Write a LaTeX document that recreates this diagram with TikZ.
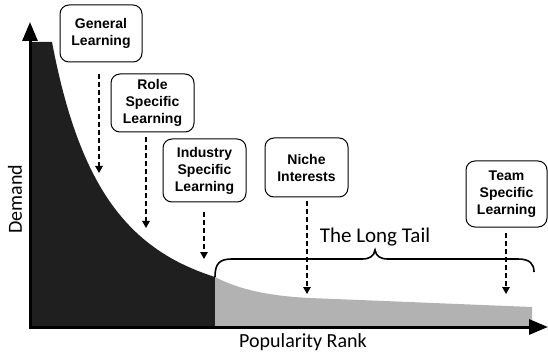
\documentclass[tikz,border=0pt]{standalone}
\usepackage{fontspec}
\setmainfont{Liberation Sans}
\newfontfamily\labelfont{Carlito}
\usetikzlibrary{arrows.meta}
\begin{document}
\begin{tikzpicture}[x=1pt,y=-1pt,
  stagebox/.style={draw,line width=1pt,rounded corners=9pt,inner sep=0pt,
    align=center,font=\fontsize{14}{17}\selectfont\bfseries},
  dropline/.style={line width=1.4pt,dash pattern=on 5pt off 3pt,
    -{Triangle[length=7pt,width=7.5pt]}},
  axisline/.style={line width=3pt,-{Triangle[length=19pt,width=15pt]}},
  axislabel/.style={font=\labelfont\fontsize{20}{24}\selectfont}]
\useasboundingbox (0,0) rectangle (548,355);

% head of the distribution
\fill[black!88] (30,327) -- (30,42) -- (52,42)
  .. controls (80,190) and (130,250) .. (215,277) -- (215,327) -- cycle;
% the tail
\fill[black!30] (215,327) -- (215,277)
  .. controls (240,290) and (270,296) .. (310,298) -- (532,307) -- (532,327) -- cycle;

% axes
\coordinate (origin) at (30,327);
\coordinate (ytop) at (30,22);
\coordinate (xend) at (548,327);
\draw[axisline] ([yshift=1.5pt]origin) -- (ytop);
\draw[axisline] ([xshift=-1.5pt]origin) -- (xend);

\node[axislabel,rotate=90] (demand) at (15,199) {Demand};
\node[axislabel] (rank) at (303,342) {Popularity Rank};

% brace over the tail
\draw[line width=1.6pt]
  (215,277) .. controls (215,263) and (220,259) .. (232,259) -- (362,259)
  .. controls (370,259) and (374,256) .. (375,250)
  .. controls (376,256) and (380,259) .. (388,259) -- (518,259)
  .. controls (530,259) and (534,264) .. (534,272);
\node[axislabel,font=\labelfont\fontsize{21}{24}\selectfont] (tail) at (375,237) {The Long Tail};

% learning categories
\node[stagebox,minimum width=82pt,minimum height=57pt] (gen) at (101,33.5) {General\\Learning};
\node[stagebox,minimum width=83pt,minimum height=58pt] (role) at (152.5,103) {Role\\Specific\\Learning};
\node[stagebox,minimum width=83pt,minimum height=63pt] (ind) at (204.5,170.5) {Industry\\Specific\\Learning};
\node[stagebox,minimum width=83pt,minimum height=59pt] (niche) at (306.5,167.5) {Niche\\Interests};
\node[stagebox,minimum width=81pt,minimum height=66pt] (team) at (506.5,194) {Team\\Specific\\Learning};

% drop lines onto the curve
\coordinate (genS) at (99,74);     \coordinate (genE) at (99,173);
\coordinate (roleS) at (146,137);  \coordinate (roleE) at (146,228);
\coordinate (indS) at (204,212);   \coordinate (indE) at (204,259);
\coordinate (nicheS) at (307,201); \coordinate (nicheE) at (307,294);
\coordinate (teamS) at (506,233);  \coordinate (teamE) at (506,294);
\draw[dropline] (genS) -- (genE);
\draw[dropline] (roleS) -- (roleE);
\draw[dropline] (indS) -- (indE);
\draw[dropline] (nicheS) -- (nicheE);
\draw[dropline] (teamS) -- (teamE);
\end{tikzpicture}
\end{document}
